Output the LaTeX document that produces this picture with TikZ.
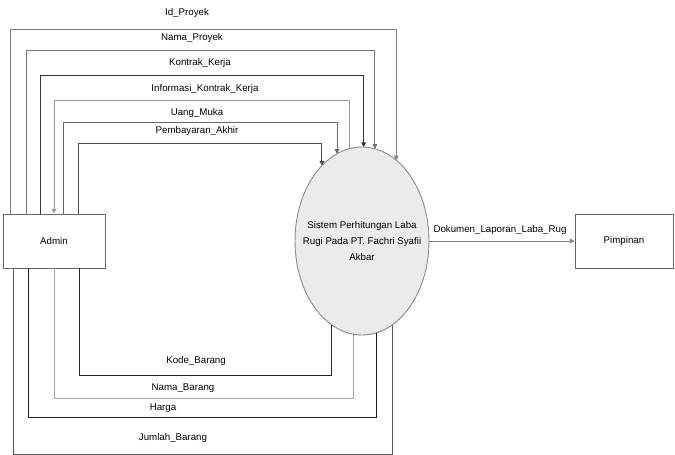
\documentclass[tikz,border=0pt]{standalone}
\usepackage{fontspec}
\setmainfont{Liberation Sans}
\usetikzlibrary{shapes.geometric,arrows.meta}

\begin{document}
\begin{tikzpicture}
      [x=0.03cm,y=-0.03cm,line width=0.8pt,every node/.style={font=\fontsize{8.3}{10}\selectfont},
       entity/.style={draw=black!60,minimum width=3.06cm,minimum height=1.62cm},
       tohub/.style={-{Triangle[length=4pt,width=4pt]}},
       toadmin/.style={{Triangle[length=4pt,width=4pt]}-}]
	\useasboundingbox (0,0) rectangle (675,455);

	\node (admin)    [entity] at (54,241)  {Admin};
	\node (pimpinan) [entity,minimum width=2.94cm] at (624,241) {Pimpinan};
	\node (sistem)   [ellipse,draw=black!45,fill=black!8,outer sep=0pt,
	                  minimum width=4.02cm,minimum height=5.64cm,
	                  label={[name=sistemtxt,align=center,font=\fontsize{8.3}{14}\selectfont]center:Sistem Perhitungan Laba\\Rugi Pada PT. Fachri Syafii\\Akbar}]
	                  at (362,241) {};

	% admin ke sistem (atas)
	\foreach \x/\y/\a/\dir/\col in {10/29/67/tohub/black!50,26/50/82/tohub/black!55,40/75/89/tohub/black!80,
	                                54/100/98/toadmin/black!40,63/122/106/tohub/black!60,78/143/118/tohub/black!70}
	  \draw[\dir,\col] (\x,0 |- admin.north) |- (sistem.\a |- 0,\y) -- (sistem.\a);

	\node (l1) at (187,13)  {Id\_Proyek};
	\node (l2) at (192,38)  {Nama\_Proyek};
	\node (l3) at (200,63)  {Kontrak\_Kerja};
	\node (l4) at (205,89)  {Informasi\_Kontrak\_Kerja};
	\node (l5) at (197,113) {Uang\_Muka};
	\node (l6) at (197,131) {Pembayaran\_Akhir};

	% admin ke sistem (bawah)
	\foreach \x/\y/\a/\col in {79/375/250/black!85,54/398/265/black!35,28/417/279/black!90,13/454/290/black!65}
	  \draw[\col] (\x,0 |- admin.south) |- (sistem.\a |- 0,\y) -- (sistem.\a);

	\node (l7)  at (196,361) {Kode\_Barang};
	\node (l8)  at (183,388) {Nama\_Barang};
	\node (l9)  at (163,408) {Harga};
	\node (l10) at (173,438) {Jumlah\_Barang};

	\draw[tohub,black!50] (sistem.east) -- (pimpinan.west);
	\node (l11) at (500,230) {Dokumen\_Laporan\_Laba\_Rug};
      \end{tikzpicture}
\end{document}
